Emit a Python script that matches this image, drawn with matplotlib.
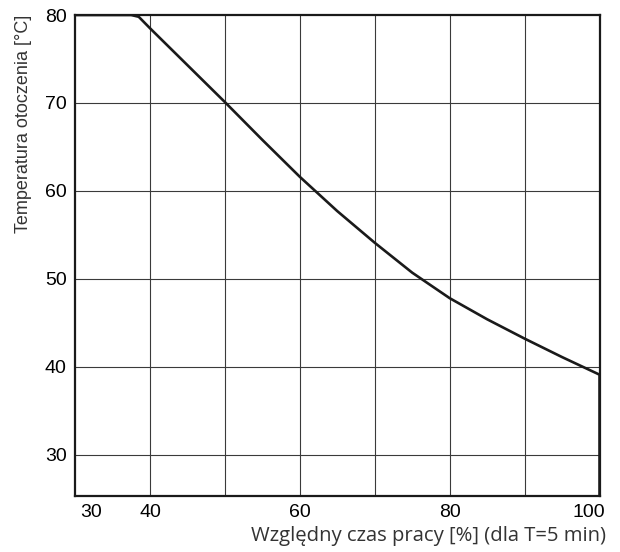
import matplotlib
matplotlib.use("Agg")
import matplotlib.pyplot as plt
from matplotlib.transforms import ScaledTranslation

# derating curve: ambient temperature vs relative duty cycle
duty = [30, 35, 37.5, 38.5, 40, 45, 50, 55, 60, 65, 70, 75, 80, 85, 90, 95, 100, 100]
temp = [80, 80, 80, 79.8, 78.5, 74.3, 70.1, 65.8, 61.6, 57.7, 54.1, 50.7, 47.8, 45.4, 43.2, 41.1, 39.1, 25]

xticks = [30, 40, 60, 80, 100]
xgrid = [40, 50, 60, 70, 80, 90]
yticks = [30, 40, 50, 60, 70, 80]

fig = plt.figure(figsize=(6.2, 5.52), dpi=100)
ax = fig.add_axes([0.121, 0.1014, 0.846, 0.8714])

ax.plot(duty, temp, color="#1a1a1a", lw=1.9, solid_joinstyle="round", zorder=3)

ax.set_xlim(30, 100)
ax.set_ylim(25.3, 80)
ax.set_xticks(xticks)
ax.set_yticks(yticks)
ax.tick_params(which="both", length=0, pad=6)
for lbl in ax.get_xticklabels() + ax.get_yticklabels():
    lbl.set_family("Liberation Sans")
    lbl.set_fontsize(14)

# keep the end labels inside the frame
shift = lambda px: ScaledTranslation(px / 100, 0, fig.dpi_scale_trans)
xl = ax.get_xticklabels()
xl[0].set_ha("left")
xl[0].set_transform(xl[0].get_transform() + shift(5))
xl[-1].set_ha("right")
xl[-1].set_transform(xl[-1].get_transform() + shift(6))

for x in xgrid:
    ax.axvline(x, color="#3a3a3a", lw=0.8, zorder=1)
for y in yticks[:-1]:
    ax.axhline(y, color="#3a3a3a", lw=0.8, zorder=1)

for s in ax.spines.values():
    s.set_linewidth(1.6)
    s.set_color("#1a1a1a")

ax.set_ylabel("Temperatura otoczenia [°C]", loc="top", fontsize=13,
              family="Liberation Sans", color="#333333", labelpad=9)
ax.set_xlabel("Względny czas pracy [%] (dla T=5 min)", loc="right", fontsize=14.6,
              family="Open Sans", color="#333333", labelpad=3)
fig.canvas.draw()
ax.xaxis.label.set_transform(ax.xaxis.label.get_transform() + shift(6))

fig.savefig("out.png", dpi=100)
